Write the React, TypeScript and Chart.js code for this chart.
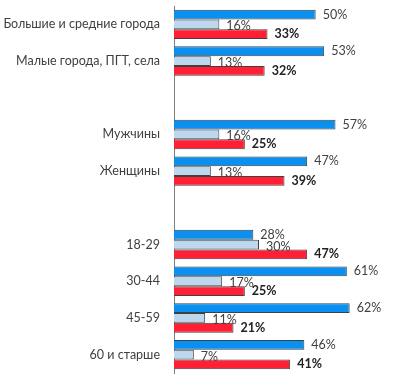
import React, { useEffect, useRef } from "react";
import { Chart, registerables } from "chart.js";
Chart.register(...registerables);

const categories = [
  "Большие и средние города",
  "Малые города, ПГТ, села",
  "",
  "Мужчины",
  "Женщины",
  "",
  "18-29",
  "30-44",
  "45-59",
  "60 и старше",
];
const seriesA = [50, 53, null, 57, 47, null, 28, 61, 62, 46];
const seriesB = [16, 13, null, 16, 13, null, 30, 17, 11, 7];
const seriesC = [33, 32, null, 25, 39, null, 47, 25, 21, 41];

const FONT = "Lato, 'Open Sans', sans-serif";

const labelPlugin = {
  id: "valueLabels",
  afterDatasetsDraw(chart: any) {
    const ctx = chart.ctx;
    ctx.save();
    chart.data.datasets.forEach((ds: any, di: number) => {
      const meta = chart.getDatasetMeta(di);
      meta.data.forEach((bar: any, i: number) => {
        const v = ds.data[i];
        if (v == null) return;
        const bold = di === 2;
        ctx.font = (bold ? "bold " : "") + "12.5px " + FONT;
        ctx.fillStyle = bold ? "#222222" : "#404040";
        ctx.textAlign = "left";
        ctx.textBaseline = "middle";
        const dy = di === 1 ? 2 : 0;
        ctx.fillText(v + "%", bar.x + 7, bar.y + dy);
      });
    });
    ctx.restore();
  },
};

export default function App() {
  const ref = useRef<HTMLCanvasElement>(null);
  useEffect(() => {
    document.body.style.margin = "0";
    const chart = new Chart(ref.current!, {
      type: "bar",
      data: {
        labels: categories,
        datasets: [
          { data: seriesA, backgroundColor: "#0A90F0", borderColor: "#404040", borderWidth: 1 },
          { data: seriesB, backgroundColor: "#BDD7EE", borderColor: "#404040", borderWidth: 1 },
          { data: seriesC, backgroundColor: "#FF2035", borderColor: "#404040", borderWidth: 1 },
        ],
      },
      options: {
        indexAxis: "y",
        animation: false,
        responsive: false,
        categoryPercentage: 0.8,
        barPercentage: 1,
        layout: { padding: { top: 6, right: 10, bottom: 2, left: 0 } },
        plugins: { legend: { display: false }, tooltip: { enabled: false } },
        scales: {
          x: {
            min: 0,
            max: 78,
            display: false,
          },
          y: {
            afterFit: (s: any) => {
              s.width = 174;
            },
            grid: {
              display: true,
              drawOnChartArea: false,
              drawTicks: true,
              tickLength: 14,
              tickColor: "rgba(0,0,0,0)",
            },
            border: { display: true, color: "#808080", width: 1 },
            ticks: {
              color: "#404040",
              font: { family: FONT, size: 12.5, lineHeight: 0.3 },
              padding: 0,
            },
          },
        },
      },
      plugins: [labelPlugin],
    } as any);
    return () => chart.destroy();
  }, []);
  return <canvas ref={ref} width={405} height={375} style={{ display: "block" }} />;
}
